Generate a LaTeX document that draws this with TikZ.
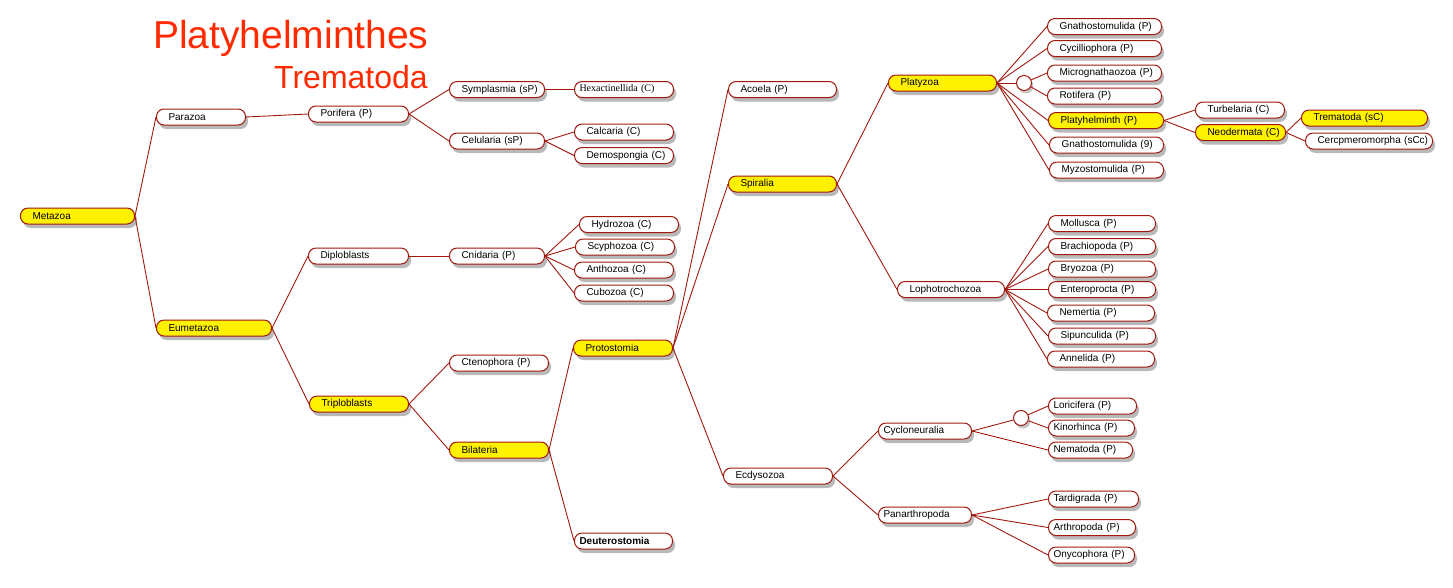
\documentclass[tikz,border=0pt]{standalone}
\usepackage{fontspec}
\setmainfont{Liberation Sans}
\newfontfamily\timesface{Liberation Serif}
\usepackage{xcolor}
\usetikzlibrary{shadows}
\definecolor{linkred}{HTML}{A0190F}
\definecolor{titlered}{HTML}{FF2A00}

\begin{document}
\begin{tikzpicture}[
  x=1pt, y=-1pt,
  taxon/.style={draw=linkred,line width=1pt,fill=white,rounded corners=7.5pt,
    minimum height=16pt,inner ysep=1pt,inner xsep=12pt,anchor=west,align=left,
    text width=#1,font=\fontsize{10}{12}\selectfont,
    execute at begin node=\hbox\bgroup,execute at end node=\egroup,
    drop shadow={shadow xshift=2.5pt,shadow yshift=-4pt,opacity=0.5,fill=black!55}},
  tight/.style={inner xsep=5pt},
  marked/.style={fill=yellow},
  junction/.style={circle,draw=linkred,fill=white,line width=1pt,minimum size=15pt,inner sep=0pt,
    drop shadow={shadow xshift=2pt,shadow yshift=-3pt,opacity=0.4,fill=black!55}},
  link/.style={draw=linkred,line width=0.9pt},
  heading/.style={text=titlered,anchor=base west,inner sep=0pt}
]
\useasboundingbox (0,0) rectangle (1453,587);

% title
\node[heading,font=\fontsize{39}{44}\selectfont] (phylum) at (153,48) {Platyhelminthes};
\node[heading,font=\fontsize{32}{36}\selectfont] (subclass) at (274,88) {Trematoda};

% left part of the tree
\node[taxon=90,marked] (metazoa) at (20,216) {Metazoa};
\node[taxon=65] (parazoa) at (156,117) {Parazoa};
\node[taxon=91,marked] (eumetazoa) at (156,328) {Eumetazoa};
\node[taxon=76] (porifera) at (308,114) {Porifera (P)};
\node[taxon=76] (diploblasts) at (308,256) {Diploblasts};
\node[taxon=75,marked] (triploblasts) at (309,404) {Triploblasts};
\node[taxon=71] (symplasmia) at (449,89.5) {Symplasmia (sP)};
\node[taxon=71] (celularia) at (449,141) {Celularia (sP)};
\node[taxon=89,tight,font=\timesface\fontsize{10}{12}\selectfont] (hexactinellida) at (574,89.5) {Hexactinellida (C)};
\node[taxon=75] (calcaria) at (574,132) {Calcaria (C)};
\node[taxon=75] (demospongia) at (574,155.5) {Demospongia (C)};
\node[taxon=71] (cnidaria) at (449,256) {Cnidaria (P)};
\node[taxon=75] (hydrozoa) at (579,224.5) {Hydrozoa (C)};
\node[taxon=75] (scyphozoa) at (575,247) {Scyphozoa (C)};
\node[taxon=75] (anthozoa) at (574,270) {Anthozoa (C)};
\node[taxon=75] (cubozoa) at (574,293) {Cubozoa (C)};
\node[taxon=75] (ctenophora) at (449,363) {Ctenophora (P)};
\node[taxon=75,marked] (bilateria) at (449,450) {Bilateria};
\node[taxon=75,marked] (protostomia) at (573,348) {Protostomia};
\node[taxon=88,tight,font=\bfseries\fontsize{10}{12}\selectfont] (deuterostomia) at (574,541) {Deuterostomia};

% protostomes
\node[taxon=84] (acoela) at (728,89.5) {Acoela (P)};
\node[taxon=84,marked] (spiralia) at (728,184) {Spiralia};
\node[taxon=85] (ecdysozoa) at (723,476) {Ecdysozoa};
\node[taxon=84,marked] (platyzoa) at (888,83) {Platyzoa};
\node[taxon=83] (lophotrochozoa) at (897,289.5) {Lophotrochozoa};
\node[taxon=83,tight] (cycloneuralia) at (878,431) {Cycloneuralia};
\node[taxon=83,tight] (panarthropoda) at (878,515) {Panarthropoda};

% platyzoa
\node[junction] (jplaty) at (1024,83) {};
\node[taxon=90] (gnathoP) at (1047,26.5) {Gnathostomulida (P)};
\node[taxon=90] (cycilliophora) at (1047,48.5) {Cycilliophora (P)};
\node[taxon=90] (micrognathaozoa) at (1047,73) {Micrognathaozoa (P)};
\node[taxon=90] (rotifera) at (1047,96) {Rotifera (P)};
\node[taxon=91,marked] (platyhelminth) at (1048,120.5) {Platyhelminth (P)};
\node[taxon=90] (gnathoNine) at (1049,145) {Gnathostomulida (9)};
\node[taxon=90] (myzostomulida) at (1049,170) {Myzostomulida (P)};
\node[taxon=65] (turbelaria) at (1195,110) {Turbelaria (C)};
\node[taxon=66,marked] (neodermata) at (1195,132.5) {Neodermata (C)};
\node[taxon=102,marked] (trematoda) at (1301,118) {Trematoda (sC)};
\node[taxon=103] (cercpmeromorpha) at (1305,141) {Cercpmeromorpha (sCc)};

% lophotrochozoa
\node[taxon=83] (mollusca) at (1048,223.5) {Mollusca (P)};
\node[taxon=83] (brachiopoda) at (1048,246.5) {Brachiopoda (P)};
\node[taxon=83] (bryozoa) at (1048,269) {Bryozoa (P)};
\node[taxon=83] (enteroprocta) at (1048,289.5) {Enteroprocta (P)};
\node[taxon=83] (nemertia) at (1047,313) {Nemertia (P)};
\node[taxon=83] (sipunculida) at (1048,336) {Sipunculida (P)};
\node[taxon=83] (annelida) at (1047,359) {Annelida (P)};

% ecdysozoa
\node[junction] (jcyclo) at (1021,418) {};
\node[taxon=78,tight] (loricifera) at (1048,406) {Loricifera (P)};
\node[taxon=76,tight] (kinorhinca) at (1048,428) {Kinorhinca (P)};
\node[taxon=74,tight] (nematoda) at (1048,450) {Nematoda (P)};
\node[taxon=80,tight] (tardigrada) at (1048,499) {Tardigrada (P)};
\node[taxon=77,tight] (arthropoda) at (1048,527.5) {Arthropoda (P)};
\node[taxon=76,tight] (onycophora) at (1048,555) {Onycophora (P)};

% links
\draw[link] (metazoa.east) -- (parazoa.west);
\draw[link] (metazoa.east) -- (eumetazoa.west);
\draw[link] (parazoa.east) -- (porifera.west);
\draw[link] (porifera.east) -- (symplasmia.west);
\draw[link] (porifera.east) -- (celularia.west);
\draw[link] (symplasmia.east) -- (hexactinellida.west);
\draw[link] (celularia.east) -- (calcaria.west);
\draw[link] (celularia.east) -- (demospongia.west);
\draw[link] (eumetazoa.east) -- (diploblasts.west);
\draw[link] (eumetazoa.east) -- (triploblasts.west);
\draw[link] (diploblasts.east) -- (cnidaria.west);
\draw[link] (cnidaria.east) -- (hydrozoa.west);
\draw[link] (cnidaria.east) -- (scyphozoa.west);
\draw[link] (cnidaria.east) -- (anthozoa.west);
\draw[link] (cnidaria.east) -- (cubozoa.west);
\draw[link] (triploblasts.east) -- (ctenophora.west);
\draw[link] (triploblasts.east) -- (bilateria.west);
\draw[link] (bilateria.east) -- (protostomia.west);
\draw[link] (bilateria.east) -- (deuterostomia.west);
\draw[link] (protostomia.east) -- (acoela.west);
\draw[link] (protostomia.east) -- (spiralia.west);
\draw[link] (protostomia.east) -- (ecdysozoa.west);
\draw[link] (spiralia.east) -- (platyzoa.west);
\draw[link] (spiralia.east) -- (lophotrochozoa.west);
\draw[link] (platyzoa.east) -- (gnathoP.west);
\draw[link] (platyzoa.east) -- (cycilliophora.west);
\draw[link] (platyzoa.east) -- (jplaty);
\draw[link] (jplaty) -- (micrognathaozoa.west);
\draw[link] (jplaty) -- (rotifera.west);
\draw[link] (platyzoa.east) -- (platyhelminth.west);
\draw[link] (platyzoa.east) -- (gnathoNine.west);
\draw[link] (platyzoa.east) -- (myzostomulida.west);
\draw[link] (platyhelminth.east) -- (turbelaria.west);
\draw[link] (platyhelminth.east) -- (neodermata.west);
\draw[link] (neodermata.east) -- (trematoda.west);
\draw[link] (neodermata.east) -- (cercpmeromorpha.west);
\draw[link] (lophotrochozoa.east) -- (mollusca.west);
\draw[link] (lophotrochozoa.east) -- (brachiopoda.west);
\draw[link] (lophotrochozoa.east) -- (bryozoa.west);
\draw[link] (lophotrochozoa.east) -- (enteroprocta.west);
\draw[link] (lophotrochozoa.east) -- (nemertia.west);
\draw[link] (lophotrochozoa.east) -- (sipunculida.west);
\draw[link] (lophotrochozoa.east) -- (annelida.west);
\draw[link] (ecdysozoa.east) -- (cycloneuralia.west);
\draw[link] (ecdysozoa.east) -- (panarthropoda.west);
\draw[link] (cycloneuralia.east) -- (jcyclo);
\draw[link] (jcyclo) -- (loricifera.west);
\draw[link] (jcyclo) -- (kinorhinca.west);
\draw[link] (cycloneuralia.east) -- (nematoda.west);
\draw[link] (panarthropoda.east) -- (tardigrada.west);
\draw[link] (panarthropoda.east) -- (arthropoda.west);
\draw[link] (panarthropoda.east) -- (onycophora.west);
\end{tikzpicture}
\end{document}
